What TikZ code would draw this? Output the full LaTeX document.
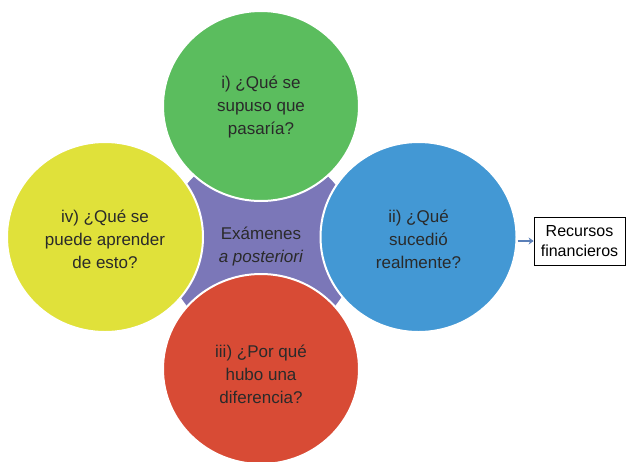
\documentclass[tikz,border=0pt]{standalone}
\usepackage{fontspec}
\setmainfont{Liberation Sans}
\usetikzlibrary{shapes.geometric,arrows.meta}
\definecolor{cgreen}{HTML}{5BBD5E}
\definecolor{cyellow}{HTML}{E0E13A}
\definecolor{cblue}{HTML}{4398D4}
\definecolor{cred}{HTML}{D84B35}
\definecolor{cpurple}{HTML}{7B77B8}
\definecolor{ctext}{HTML}{2A2A2A}
\definecolor{carrow}{HTML}{5A7FB8}
\begin{document}
\begin{tikzpicture}[x=1pt,y=-1pt,
  blob/.style={ellipse, draw=white, line width=2pt, inner sep=0pt,
    minimum width=196pt, minimum height=190pt},
  blobtext/.style={align=center, inner sep=0pt, text=ctext, font=\fontsize{17}{23}\selectfont},
  boxnode/.style={draw=black, line width=0.8pt, minimum width=91pt, minimum height=48pt,
    inner sep=0pt, align=center, text=black, font=\fontsize{16}{20}\selectfont}]
\useasboundingbox[fill=white] (0,0) rectangle (626,461);
\node[blob, fill=cpurple, minimum width=194pt, minimum height=194pt] (center) at (261,245) {};
\node[blob, fill=cgreen] (green) at (261,106) {};
\node[blob, fill=cyellow] (yellow) at (105,237) {};
\node[blob, fill=cblue] (blue) at (418.5,237) {};
\node[blob, fill=cred] (red) at (261,369) {};
\node[blobtext] (tcenter) at ([yshift=-1pt]center.center) {Exámenes\\\textit{a posteriori}};
\node[blobtext] (tgreen) at ([yshift=-1pt]green.center) {i) ¿Qué se\\supuso que\\pasaría?};
\node[blobtext] (tyellow) at ([yshift=-2pt]yellow.center) {iv) ¿Qué se\\puede aprender\\de esto?};
\node[blobtext] (tblue) at ([yshift=-2pt]blue.center) {ii) ¿Qué\\sucedió\\realmente?};
\node[blobtext] (tred) at ([yshift=-5pt]red.center) {iii) ¿Por qué\\hubo una\\diferencia?};
\node[boxnode] (box) at (579.5,241) {Recursos\\financieros};
\draw[carrow, line width=1.4pt, -{Stealth[length=5pt,width=7pt]}] (blue.east |- box.west) -- (box.west);
\end{tikzpicture}
\end{document}
